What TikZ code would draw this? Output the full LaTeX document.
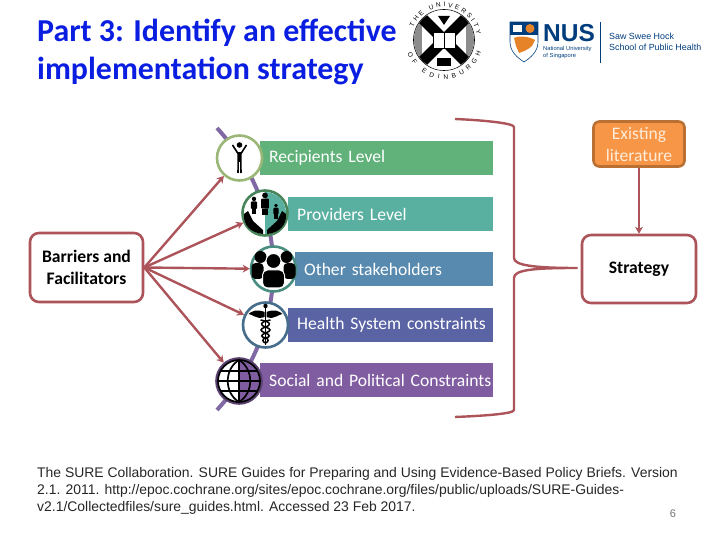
\documentclass[tikz,border=0pt]{standalone}
\usepackage{fontspec}
\setmainfont{Carlito}
\newfontfamily\arialfont{Liberation Sans}
\definecolor{titleblue}{RGB}{10, 30, 225}
\definecolor{linkred}{RGB}{172, 84, 90}
\definecolor{orangefill}{RGB}{247, 150, 70}
\definecolor{orangeedge}{RGB}{185, 112, 50}
\definecolor{spine}{RGB}{128, 105, 165}
\definecolor{recipgreen}{RGB}{96, 178, 122}
\definecolor{provteal}{RGB}{90, 176, 160}
\definecolor{otherblue}{RGB}{88, 138, 175}
\definecolor{healthblue}{RGB}{90, 100, 165}
\definecolor{socialpurple}{RGB}{128, 92, 160}
\definecolor{nusblue}{RGB}{0, 61, 124}
\definecolor{nusorange}{RGB}{230, 130, 40}
\usetikzlibrary{arrows.meta, decorations.text}
\begin{document}
\begin{tikzpicture}[
  x=1pt, y=1pt,
  bar/.style={anchor=west, inner xsep=0pt, minimum height=34pt, align=left, text=white, font=\fontsize{17.6}{20}\selectfont, execute at begin node=\hspace*{9pt}},
  ring/.style={circle, draw, line width=2.6pt, fill=white, minimum size=45pt, inner sep=0pt},
  cbox/.style={draw=linkred, line width=2.6pt, rounded corners=9pt, fill=white, align=center, font=\fontsize{17.6}{22}\selectfont\bfseries},
  link/.style={draw=linkred, line width=2.4pt, -{Stealth[length=7pt, width=8pt]}},
  brace/.style={draw=linkred, line width=2.4pt, line join=round},
  seal/.style={decoration={text along path, text align={fit to path}, text={#1}}, decorate}
]
  \useasboundingbox (0,0) rectangle (720,540);

  \node[anchor=north west, inner sep=0pt, align=left, text=titleblue, font=\fontsize{31.9}{38}\selectfont\bfseries] (title) at (37,521) {Part 3: Identify an effective\\implementation strategy};

  \draw[spine, line width=4pt] (217,412) .. controls (292,330) and (292,212) .. (217,130);

  \node[bar, fill=recipgreen, text width=233pt] (recipbar) at (260,382) {Recipients Level};
  \node[bar, fill=provteal, text width=205pt] (provbar) at (288,326) {Providers Level};
  \node[bar, fill=otherblue, text width=198pt] (otherbar) at (295,271) {Other stakeholders};
  \node[bar, fill=healthblue, text width=205pt] (healthbar) at (288,215) {Health System constraints};
  \node[bar, fill=socialpurple, text width=233pt] (socialbar) at (260,160) {Social and Political Constraints};

  \node[ring, draw=recipgreen!50!olive!70] (recip) at (239.5,382) {};
  \node[ring, draw=recipgreen!75!black] (prov) at (265,327) {};
  \node[ring, draw=provteal!80!black] (other) at (273.5,271) {};
  \node[ring, draw=otherblue!80!black] (health) at (265.5,215) {};
  \node[ring, draw=socialpurple!70!black] (social) at (239,159) {};

  \begin{scope}[shift={(recip)}]
    \fill (0,13) circle (2.8);
    \draw[line width=1.6pt, line join=round] (-7,13) -- (-1.2,4) -- (-1.5,-15);
    \draw[line width=1.6pt, line join=round] (7,13) -- (1.2,4) -- (1.5,-15);
    \fill (-1.8,6) rectangle (1.8,-4);
  \end{scope}

  \begin{scope}[shift={(prov)}]
    \fill[provteal] (0,-21) arc (-90:90:21) -- cycle;
    \foreach \px/\py/\ps in {-11/9/0.85, 0/11/1.1, 11/3/0.75} {
      \fill (\px,\py+6*\ps) circle (2.6*\ps);
      \fill[rounded corners=1pt] (\px-3.6*\ps,\py+3*\ps) rectangle (\px+3.6*\ps,\py-6*\ps);
      \fill (\px-2.6*\ps,\py-6*\ps) rectangle (\px-0.4*\ps,\py-12*\ps);
      \fill (\px+0.4*\ps,\py-6*\ps) rectangle (\px+2.6*\ps,\py-12*\ps);
    }
    \fill (-21,-1) .. controls (-22,-12) and (-14,-20) .. (-2,-21) -- (-2,-17) -- (-12,-8) -- (-17,2) -- cycle;
    \fill (21,-1) .. controls (22,-12) and (14,-20) .. (2,-21) -- (2,-17) -- (12,-8) -- (17,2) -- cycle;
  \end{scope}

  \begin{scope}[shift={(other)}]
    \fill (-13,12) circle (6);
    \fill (13,12) circle (6);
    \fill[rounded corners=4pt] (-22,6) -- (-10,6) -- (-10,-10) -- (-22,-10) -- cycle;
    \fill[rounded corners=4pt] (22,6) -- (10,6) -- (10,-10) -- (22,-10) -- cycle;
    \draw[white, line width=1pt, fill=black] (0,8) circle (7.5);
    \draw[white, line width=1pt, fill=black, rounded corners=5pt] (-11,-19) -- (-11,-1) -- (11,-1) -- (11,-19) -- cycle;
  \end{scope}

  \begin{scope}[shift={(health)}]
    \fill (0,19) circle (2.2);
    \draw[line width=1.6pt] (0,19) -- (0,-20);
    \fill (-1,13) .. controls (-8,16) and (-14,14) .. (-17,11) .. controls (-12,10) and (-10,7) .. (-6,7) .. controls (-3,7) and (-2,8) .. (-1,8) -- cycle;
    \fill (1,13) .. controls (8,16) and (14,14) .. (17,11) .. controls (12,10) and (10,7) .. (6,7) .. controls (3,7) and (2,8) .. (1,8) -- cycle;
    \draw[line width=1.5pt] (-5,5) .. controls (6,3) and (6,0) .. (0,-2) .. controls (-6,-4) and (-6,-6) .. (0,-8) .. controls (5,-10) and (5,-12) .. (0,-13) .. controls (-4,-14) and (-3,-17) .. (0,-18);
    \draw[line width=1.5pt] (5,5) .. controls (-6,3) and (-6,0) .. (0,-2) .. controls (6,-4) and (6,-6) .. (0,-8) .. controls (-5,-10) and (-5,-12) .. (0,-13) .. controls (4,-14) and (3,-17) .. (0,-18);
  \end{scope}

  \begin{scope}[shift={(social)}]
    \fill[socialpurple] (0,-21) arc (-90:90:21) -- cycle;
    \draw[line width=1.7pt] (0,0) circle (21);
    \draw[line width=1.7pt] (-21,0) -- (21,0);
    \draw[line width=1.7pt] (0,-21) -- (0,21);
    \draw[line width=1.7pt] (-18,10) -- (18,10);
    \draw[line width=1.7pt] (-18,-10) -- (18,-10);
    \draw[line width=1.7pt] (0,21) .. controls (-15,12) and (-15,-12) .. (0,-21);
    \draw[line width=1.7pt] (0,21) .. controls (15,12) and (15,-12) .. (0,-21);
  \end{scope}

  \node[cbox, minimum width=113pt, minimum height=69pt] (barriers) at (86.5,272.5) {Barriers and\\Facilitators};
  \node[cbox, minimum width=114pt, minimum height=68pt] (strategy) at (639,271) {Strategy};
  \node[cbox, draw=orangeedge, fill=orangefill, rounded corners=6pt, minimum width=91pt, minimum height=45pt, text=white!85!orange, font=\fontsize{17.6}{22}\selectfont] (lit) at (639,396) {Existing\\literature};

  \draw[link] (barriers.east) -- (recip);
  \draw[link] (barriers.east) -- (prov);
  \draw[link] (barriers.east) -- (other);
  \draw[link] (barriers.east) -- (health);
  \draw[link] (barriers.east) -- (social);
  \draw[link] (lit) -- (strategy);

  \coordinate (bracetip) at (577,272);
  \draw[brace] (455,421) .. controls (480,420) and (514,417) .. (514,413) -- (514,282) .. controls (514,275) and (532,272) .. (bracetip) .. controls (532,272) and (514,270) .. (514,262) -- (514,130) .. controls (514,126) and (480,124) .. (455,123);

  \node[inner sep=0pt, draw, fill=white, line width=0.6pt, circle, minimum size=61pt] (crest) at (444,500) {};
  \begin{scope}
    \clip (crest.center) circle (30);
    \fill[black!45] (413,469) rectangle (475,531);
    \fill[white] (422,469) rectangle (466,531);
    \draw[line width=11pt] (416,528) -- (472,472);
    \draw[line width=11pt] (416,472) -- (472,528);
    \fill[white, draw=black, line width=0.5pt] (433,492) rectangle (455,508);
    \draw[line width=0.5pt] (444,492) -- (444,508);
    \fill (437,474) rectangle (451,482);
    \fill (438,524) -- (450,524) -- (444,515) -- cycle;
  \end{scope}
  \path[seal={|\fontsize{6.5}{8}\selectfont\arialfont|THE UNIVERSITY}] (444,500) ++(158:33) arc (158:10:33);
  \path[seal={|\fontsize{6.5}{8}\selectfont\arialfont|OF EDINBURGH}] (444,500) ++(200:39) arc (200:342:39);

  \draw[nusblue, fill=white, line width=0.6pt] (510,518) -- (538,518) -- (538,498) .. controls (538,488) and (530,482) .. (524,478) .. controls (518,482) and (510,488) .. (510,498) -- cycle;
  \fill[nusblue] (510,518) rectangle (538,505);
  \fill[white] (513,508) rectangle (522,515);
  \fill[nusorange] (530,511.5) circle (4.5);
  \fill[nusorange] (514,502) .. controls (520,505) and (530,503) .. (535,500) -- (532,494) .. controls (528,490) and (522,488) .. (519,487) -- (516,494) -- cycle;
  \node[anchor=west, inner sep=0pt, text=nusblue, font=\arialfont\fontsize{24.5}{26}\selectfont\bfseries] (nus) at (543,507) {NUS};
  \node[anchor=north west, inner sep=0pt, align=left, text=nusblue, font=\arialfont\fontsize{5.8}{7}\selectfont] (nusname) at (543,494) {National University\\of Singapore};
  \draw[nusblue, line width=0.8pt] (600.5,518) -- (600.5,477);
  \node[anchor=west, inner sep=0pt, align=left, text=nusblue, font=\arialfont\fontsize{8.9}{11.5}\selectfont] (school) at (609,498) {Saw Swee Hock\\School of Public Health};

  \node[anchor=north west, inner sep=0pt, align=left, text=black!85, font=\arialfont\fontsize{13.93}{17}\selectfont] (source) at (37,73) {The SURE Collaboration. SURE Guides for Preparing and Using Evidence-Based Policy Briefs. Version\\2.1. 2011. http://epoc.cochrane.org/sites/epoc.cochrane.org/files/public/uploads/SURE-Guides-\\v2.1/Collectedfiles/sure\_guides.html. Accessed 23 Feb 2017.};
  \node[text=black!55, font=\arialfont\fontsize{11}{13}\selectfont, inner sep=0pt] (pageno) at (673,26) {6};
\end{tikzpicture}
\end{document}
